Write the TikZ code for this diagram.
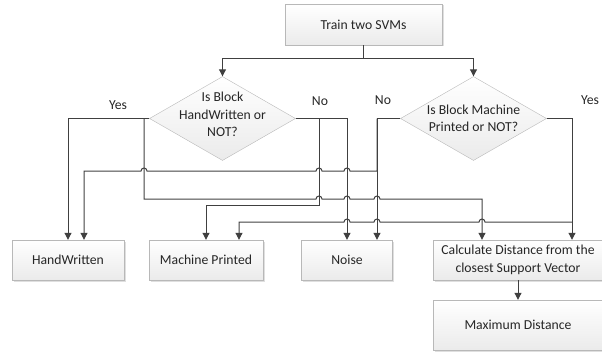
\documentclass[tikz,border=0pt]{standalone}
\usepackage{fontspec}
\setmainfont{Carlito}
\usetikzlibrary{shapes.geometric,arrows.meta,shadows}
\definecolor{linegray}{HTML}{404040}
\definecolor{boxline}{HTML}{B8B8B8}
\definecolor{textgray}{HTML}{262626}
\tikzset{
  box/.style={draw=boxline, top color=white, bottom color=gray!16, inner sep=1pt, align=center,
    text=textgray, drop shadow={shadow xshift=1.5pt, shadow yshift=-1.5pt, opacity=0.25}},
  decision/.style={diamond, draw=boxline, top color=white, bottom color=gray!16, inner sep=0pt,
    minimum width=146pt, minimum height=84pt},
  dtext/.style={align=center, text=textgray},
  answer/.style={text=textgray},
  flow/.style={draw=linegray, line width=1pt, -{Triangle[length=7pt,width=7pt]}},
}
% hop over a vertical line, going right / going left
\newcommand{\hopr}[2]{-- (#1-3,#2) arc[start angle=180, end angle=0, radius=3pt]}
\newcommand{\hopl}[2]{-- (#1+3,#2) arc[start angle=0, end angle=180, radius=3pt]}
\begin{document}
\begin{tikzpicture}[x=1pt, y=1pt, font=\fontsize{13.7}{17.5}\selectfont]
  \useasboundingbox (0,0) rectangle (602,-353);
  \node[box, minimum width=157pt, minimum height=41pt] (train) at (363.5,-24.5) {Train two SVMs};
  \node[decision] (dhw) at (222.5,-118.5) {};
  \node[decision] (dmp) at (473.5,-118.5) {};
  \node[dtext] (dhwtext) at ([yshift=4pt]dhw) {Is Block\\HandWritten or\\NOT?};
  \node[dtext] (dmptext) at (dmp) {Is Block Machine\\Printed or NOT?};
  \node[box, minimum width=112pt, minimum height=40pt] (hw) at (68,-260) {HandWritten};
  \node[box, minimum width=114pt, minimum height=40pt] (mp) at (206,-260) {Machine Printed};
  \node[box, minimum width=91pt, minimum height=40pt] (noise) at (347,-260) {Noise};
  \node[box, minimum width=170pt, minimum height=40pt] (calc) at (518,-260) {Calculate Distance from the\\closest Support Vector};
  \node[box, minimum width=170pt, minimum height=50pt] (maxd) at (518,-325) {Maximum Distance};
  \node[answer] (yes1) at (118,-105) {Yes};
  \node[answer] (no1) at (320,-101) {No};
  \node[answer] (no2) at (383,-100) {No};
  \node[answer] (yes2) at (590,-100) {Yes};
  \coordinate (hwyes) at (144,-118.5);
  \coordinate (hwno) at (319,-118.5);
  \coordinate (mpno) at (377,-118.5);
  \coordinate (mpyes) at (572,-222);
  % train to both decisions
  \draw[flow] (train.south) -- ++(0,-13) -| (dhw.north);
  \draw[flow] (train.south) -- ++(0,-13) -| (dmp.north);
  % handwritten decision
  \draw[flow] (dhw.west) -| (hw.north);
  \draw[flow] (hwyes) -- (144,-199) \hopr{319}{-199} \hopr{347}{-199} \hopr{377}{-199} -| ([xshift=-36pt]calc.north);
  \draw[flow] (dhw.east) -| (noise.north);
  \draw[flow] (hwno) -- (319,-205) -| (mp.north);
  % machine printed decision
  \draw[flow] (dmp.west) -| ([xshift=30pt]noise.north);
  \draw[flow] (mpno) -- (377,-171) \hopl{347}{-171} \hopl{319}{-171} \hopl{144}{-171} -| ([xshift=16pt]hw.north);
  \draw[flow] (dmp.east) -| ([xshift=54pt]calc.north);
  \draw[flow] (mpyes) \hopl{482}{-222} \hopl{377}{-222} \hopl{347}{-222} -| ([xshift=33pt]mp.north);
  \draw[flow] (calc) -- (maxd);
\end{tikzpicture}
\end{document}
